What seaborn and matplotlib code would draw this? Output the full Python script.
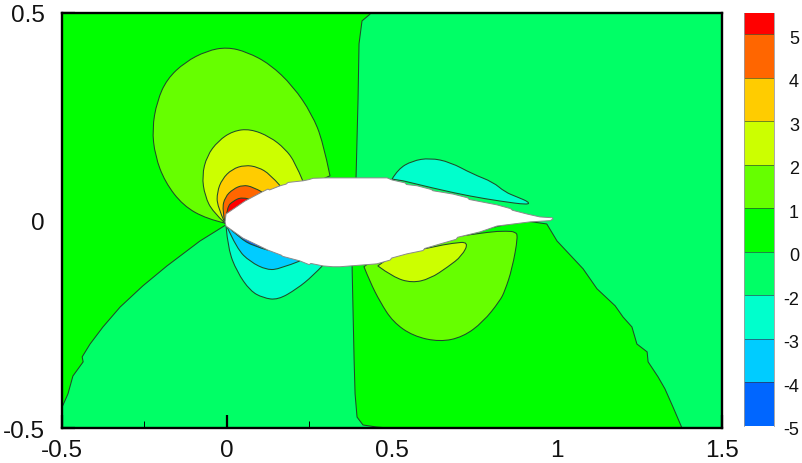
import matplotlib
matplotlib.use('Agg')
import matplotlib.pyplot as plt
from matplotlib.colors import ListedColormap
from matplotlib.patches import PathPatch
from matplotlib.path import Path
import numpy as np
import seaborn as sns

# Contour regions (x, y in chart units)
green_left_x = [0.434, 0.434, 0.41, 0.401, 0.398, 0.392, 0.392, 0.1, -0.002, -0.081, -0.181, -0.254, -0.323, -0.375, -0.414, -0.438, -0.435, -0.466, -0.481, -0.496, -0.5, -0.5]
green_left_y = [0.5, 0.497, 0.481, 0.426, 0.293, 0.105, 0.05, 0.0, -0.010, -0.049, -0.109, -0.157, -0.208, -0.256, -0.297, -0.328, -0.340, -0.374, -0.417, -0.444, -0.45, 0.5]

green_right_x = [0.38, 0.380, 0.386, 0.389, 0.395, 0.413, 0.455, 0.5, 1.380, 1.352, 1.328, 1.307, 1.277, 1.274, 1.243, 1.228, 1.201, 1.177, 1.122, 1.080, 1.001, 0.970, 0.9]
green_right_y = [-0.09, -0.111, -0.333, -0.417, -0.473, -0.492, -0.497, -0.5, -0.5, -0.448, -0.405, -0.376, -0.340, -0.316, -0.297, -0.256, -0.232, -0.205, -0.164, -0.116, -0.049, -0.008, 0.0]

top1_x = [0.313, 0.292, 0.258, 0.201, 0.131, 0.062, 0.001, -0.060, -0.126, -0.181, -0.211, -0.226, -0.217, -0.187, -0.132, -0.060, -0.005]
top1_y = [0.108, 0.190, 0.257, 0.324, 0.377, 0.406, 0.418, 0.409, 0.382, 0.341, 0.288, 0.221, 0.156, 0.093, 0.036, 0.004, -0.006]
top2_x = [0.231, 0.207, 0.177, 0.131, 0.071, 0.019, -0.026, -0.060, -0.075, -0.066, -0.042, -0.005]
top2_y = [0.095, 0.141, 0.173, 0.202, 0.221, 0.216, 0.192, 0.156, 0.108, 0.059, 0.021, -0.006]
top3_x = [0.162, 0.131, 0.095, 0.055, 0.016, -0.014, -0.029, -0.029, -0.005]
top3_y = [0.084, 0.112, 0.129, 0.134, 0.124, 0.100, 0.069, 0.035, -0.006]
top4_x = [0.107, 0.080, 0.049, 0.019, -0.005, -0.014, -0.005]
top4_y = [0.069, 0.081, 0.086, 0.076, 0.057, 0.028, -0.006]
top5_x = [0.067, 0.046, 0.019, 0.001, -0.005]
top5_y = [0.052, 0.057, 0.047, 0.033, -0.006]

low1_x = [-0.002, 0.004, 0.031, 0.071, 0.110, 0.155, 0.213, 0.261, 0.292]
low1_y = [-0.013, -0.068, -0.123, -0.169, -0.186, -0.191, -0.164, -0.133, -0.107]
low2_x = [0.0, 0.031, 0.071, 0.122, 0.162, 0.222]
low2_y = [-0.013, -0.068, -0.099, -0.119, -0.116, -0.097]
low3_x = [0.004, 0.040, 0.080, 0.125]
low3_y = [-0.015, -0.042, -0.061, -0.071]

bubble_x = [0.501, 0.519, 0.562, 0.616, 0.677, 0.746, 0.807, 0.843, 0.880, 0.916, 0.913, 0.828, 0.737, 0.637, 0.534]
bubble_y = [0.100, 0.124, 0.144, 0.151, 0.141, 0.112, 0.093, 0.069, 0.057, 0.045, 0.038, 0.047, 0.059, 0.076, 0.096]

rear1_x = [0.416, 0.434, 0.465, 0.504, 0.565, 0.646, 0.716, 0.777, 0.828, 0.843, 0.865, 0.883, 0.874, 0.850, 0.789, 0.5]
rear1_y = [-0.111, -0.147, -0.196, -0.244, -0.278, -0.292, -0.280, -0.244, -0.193, -0.169, -0.116, -0.037, -0.027, -0.025, -0.027, -0.06]
rear2_x = [0.458, 0.504, 0.561, 0.616, 0.671, 0.713, 0.734, 0.686, 0.625, 0.5]
rear2_y = [-0.109, -0.136, -0.150, -0.140, -0.111, -0.085, -0.051, -0.054, -0.063, -0.085]

foil_x = [-0.005, -0.002, 0.055, 0.107, 0.125, 0.130, 0.162, 0.180, 0.186, 0.232, 0.250, 0.262, 0.304, 0.344, 0.486, 0.501,
          0.540, 0.545, 0.577, 0.620, 0.625, 0.686, 0.730, 0.735, 0.819, 0.860, 0.866, 0.910, 0.949, 0.986, 0.989, 0.980, 0.919,
          0.819, 0.768, 0.700, 0.695, 0.647, 0.600, 0.595, 0.546, 0.500, 0.495, 0.455, 0.343, 0.322, 0.292, 0.255, 0.250, 0.222, 0.170, 0.165, 0.125, 0.049, -0.002]
foil_y = [-0.003, 0.016, 0.047, 0.069, 0.076, 0.074, 0.084, 0.088, 0.092, 0.096, 0.099, 0.102, 0.103, 0.103, 0.103, 0.098,
          0.091, 0.087, 0.084, 0.075, 0.072, 0.064, 0.055, 0.051, 0.038, 0.029, 0.025, 0.016, 0.009, 0.007, 0.004, 0.0, -0.003,
          -0.013, -0.027, -0.040, -0.045, -0.056, -0.067, -0.072, -0.080, -0.090, -0.095, -0.104, -0.111, -0.111, -0.109, -0.103, -0.106, -0.097, -0.086, -0.083, -0.071, -0.042, -0.013]

x_ticks = [-0.5, 0, 0.5, 1, 1.5]
x_tick_labels = ['-0.5', '0', '0.5', '1', '1.5']
x_minor = [-0.25, 0.25, 0.75, 1.25]
y_ticks = [-0.5, 0, 0.5]
y_tick_labels = ['-0.5', '0', '0.5']

# Colour bar, from top to bottom
bar_colors = ['#ff0000', '#ff6600', '#ffcc00', '#ccff00', '#66ff00', '#00ff00', '#00ff66', '#00ffcc', '#00ccff', '#0066ff']
bar_labels = ['5', '4', '3', '2', '1', '0', '-2', '-3', '-4', '-5']
bar_rows = [1, 2, 2, 2, 2, 2, 2, 2, 2, 2]

C_BG = '#00ff66'
C_LINE = '#1f4a2a'

sns.set_theme(style='white')
plt.rcParams['font.family'] = ['Liberation Sans', 'DejaVu Sans']

W, H = 803, 464
fig = plt.figure(figsize=(W / 100, H / 100), dpi=100)
ax = fig.add_axes([61.7 / W, (H - 429.3) / H, 660 / W, 415.3 / H])
cax = fig.add_axes([744 / W, (H - 426.7) / H, 29.7 / W, 413.2 / H])


# jagged boundaries stay as read, straight from point to point
def region(xs, ys, color):
    ax.fill(xs, ys, color=color, lw=0, zorder=1)
    sns.lineplot(x=xs + xs[:1], y=ys + ys[:1], sort=False, estimator=None,
                 color=C_LINE, lw=0.75, ax=ax, zorder=2)


# smooth contours: the read points act as curve controls
def smooth_region(xs, ys, color):
    pts = list(zip(xs, ys))
    verts = [pts[0]]
    codes = [Path.MOVETO]
    for i in range(1, len(pts) - 1):
        end = pts[i + 1] if i == len(pts) - 2 else ((pts[i][0] + pts[i + 1][0]) / 2, (pts[i][1] + pts[i + 1][1]) / 2)
        verts += [pts[i], end]
        codes += [Path.CURVE3, Path.CURVE3]
    verts.append(pts[0])
    codes.append(Path.CLOSEPOLY)
    ax.add_patch(PathPatch(Path(verts, codes), facecolor=color, edgecolor=C_LINE, lw=0.75, zorder=1))


ax.set_facecolor(C_BG)
region(green_left_x, green_left_y, '#00ff00')
region(green_right_x, green_right_y, '#00ff00')
smooth_region(top1_x, top1_y, '#66ff00')
smooth_region(top2_x, top2_y, '#ccff00')
smooth_region(top3_x, top3_y, '#ffcc00')
smooth_region(top4_x, top4_y, '#ff6600')
smooth_region(top5_x, top5_y, '#ff0000')
smooth_region(low1_x, low1_y, '#00ffcc')
smooth_region(low2_x, low2_y, '#00ccff')
smooth_region(low3_x, low3_y, '#0066ff')
smooth_region(bubble_x, bubble_y, '#00ffcc')
smooth_region(rear1_x, rear1_y, '#66ff00')
smooth_region(rear2_x, rear2_y, '#ccff00')
ax.fill(foil_x, foil_y, facecolor='white', edgecolor='#8a8a8a', lw=0.7, zorder=3)

ax.set_xlim(-0.5, 1.5)
ax.set_ylim(-0.5, 0.5)
ax.set_xticks(x_ticks, x_tick_labels)
ax.set_yticks(y_ticks, y_tick_labels)
ax.set_xticks(x_minor, minor=True)
ax.tick_params(axis='both', which='major', direction='in', length=9.5, width=1.6,
               color='black', labelsize=17.5, labelcolor='#111111')
ax.tick_params(axis='x', which='major', pad=7.5)
ax.tick_params(axis='y', which='major', pad=12)
ax.tick_params(axis='x', which='minor', direction='in', length=5, width=0.7, color='black')
ax.xaxis.set_ticks_position('bottom')
ax.yaxis.set_ticks_position('left')
for s in ax.spines.values():
    s.set_linewidth(1.7)
    s.set_color('black')
    s.set_zorder(6)

# Colour bar drawn as a one column heatmap
cells = np.repeat(np.arange(len(bar_colors)), bar_rows).reshape(-1, 1)
sns.heatmap(cells, cmap=ListedColormap(bar_colors), vmin=-0.5, vmax=len(bar_colors) - 0.5,
            cbar=False, xticklabels=False, yticklabels=False, ax=cax)
edges = np.cumsum(bar_rows)
cax.hlines(edges[:-1], 0, 1, color='#333333', lw=0.6, alpha=0.7)
for s in ['left', 'right']:
    cax.spines[s].set_visible(True)
    cax.spines[s].set_color('#999999')
    cax.spines[s].set_linewidth(0.6)
for e, lab in zip(edges, bar_labels):
    cax.text(1.852, e + 0.18, lab, ha='right', va='center', fontsize=13, color='#111111')

plt.savefig('out.png', dpi=100)
